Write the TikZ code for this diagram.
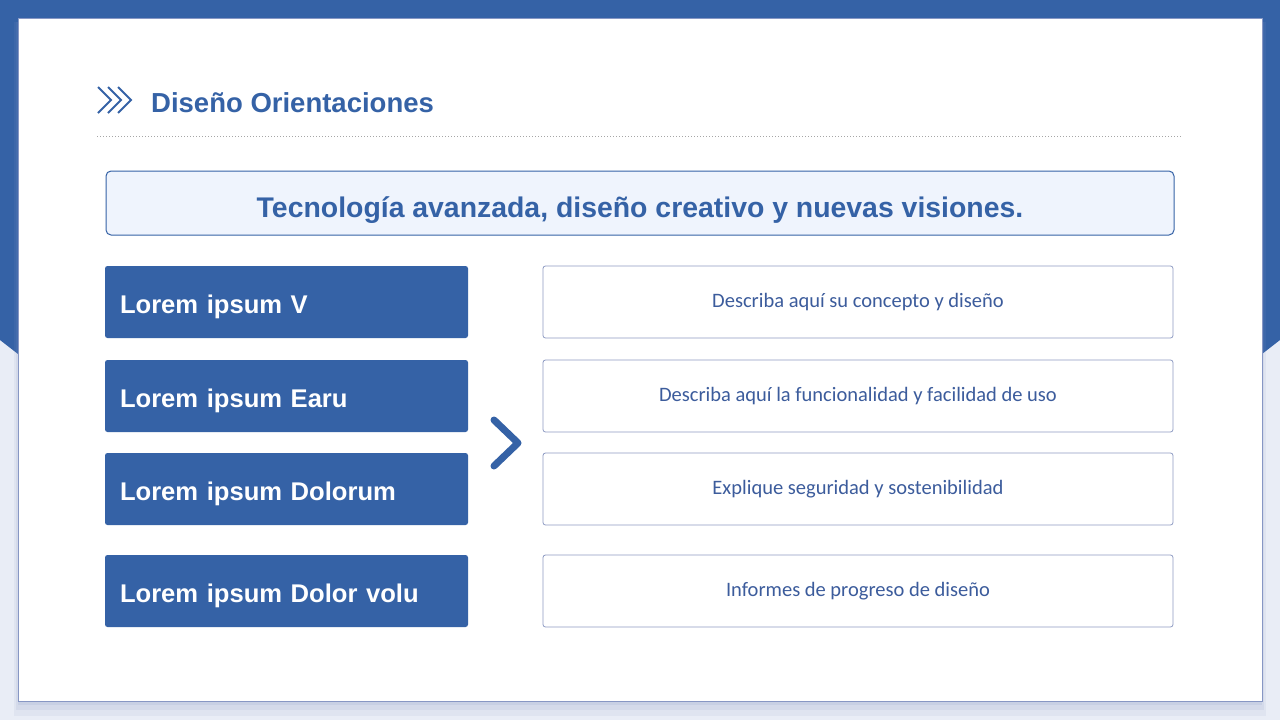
\documentclass[tikz,border=0pt]{standalone}
\usepackage{fontspec}
\setmainfont{Liberation Sans}
\newfontfamily\lightfont{Carlito}
\definecolor{mainblue}{RGB}{53,98,166}
\definecolor{descblue}{RGB}{60,92,156}
\definecolor{boxline}{RGB}{142,155,195}
\definecolor{cardline}{RGB}{135,151,196}
\definecolor{bannerfill}{RGB}{239,244,253}
\definecolor{bglight}{RGB}{233,237,246}
\begin{document}
\begin{tikzpicture}[x=1pt,y=-1pt,
  leftbox/.style={fill=mainblue,rounded corners=2.5pt,inner xsep=15pt,inner ysep=0pt,
    text width=333pt,minimum height=72pt,align=left,text=white,text height=22pt,text depth=0pt,
    font=\bfseries\fontsize{25.6}{28}\selectfont},
  rightbox/.style={draw=boxline,fill=white,line width=0.8pt,rounded corners=2.5pt,
    minimum width=630pt,minimum height=72pt,text=descblue,
    font=\lightfont\fontsize{20.5}{24}\selectfont}]
\useasboundingbox (0,0) rectangle (1280,720);
% background
\fill[bglight] (0,0) rectangle (1280,720);
\fill[mainblue] (0,0) -- (1280,0) -- (1280,340) -- (1262,354) -- (18,354) -- (0,340) -- cycle;
\fill[cardline,opacity=0.10] (14,22) rectangle (1266,716);
\fill[cardline,opacity=0.12] (16,22) rectangle (1264,710);
\fill[cardline,opacity=0.15] (18,22) rectangle (1262,705);
\filldraw[fill=white,draw=cardline,line width=1pt] (18,18) rectangle (1262,701);
% header
\foreach \i in {0,10,20}
  \draw[mainblue,line width=2pt] (98+\i,87) -- (111+\i,100) -- (98+\i,113);
\node[anchor=base west,inner sep=0pt,text=mainblue,font=\bfseries\fontsize{27.5}{30}\selectfont] (title) at (151,112) {Diseño Orientaciones};
\draw[gray!70,line width=0.8pt,dash pattern=on 0.8pt off 2.2pt] (97,136) -- (1181,136);
% banner
\node[draw=mainblue,fill=bannerfill,line width=1pt,rounded corners=5pt,minimum width=1068pt,minimum height=64pt,
  text height=28pt,text depth=0pt,text=mainblue,font=\bfseries\fontsize{28.4}{32}\selectfont] (motto) at (640,203) {Tecnología avanzada, diseño creativo y nuevas visiones.};
% items
\node[leftbox] (item1) at (286.5,302) {Lorem ipsum V};
\node[leftbox] (item2) at (286.5,396) {Lorem ipsum Earu};
\node[leftbox] (item3) at (286.5,489) {Lorem ipsum Dolorum};
\node[leftbox] (item4) at (286.5,591) {Lorem ipsum Dolor volu};
\node[rightbox] (desc1) at (858,302) {Describa aquí su concepto y diseño};
\node[rightbox] (desc2) at (858,396) {Describa aquí la funcionalidad y facilidad de uso};
\node[rightbox] (desc3) at (858,489) {Explique seguridad y sostenibilidad};
\node[rightbox] (desc4) at (858,591) {Informes de progreso de diseño};
% chevron
\draw[mainblue,line width=7pt,line cap=round,line join=round] (494,420) -- (518,443) -- (494,466);
\end{tikzpicture}
\end{document}
